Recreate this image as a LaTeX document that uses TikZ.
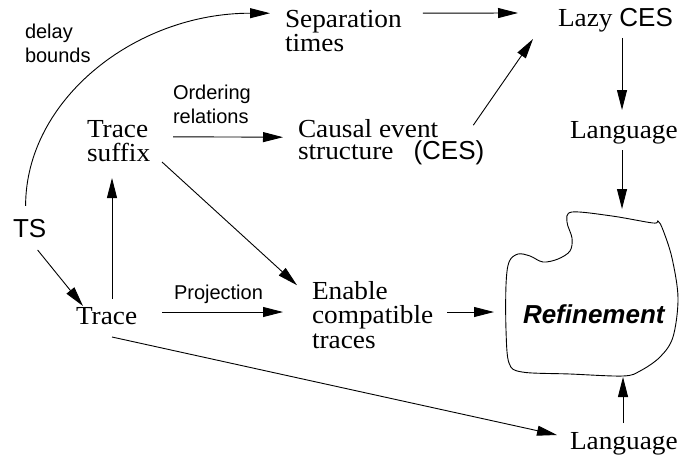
\documentclass[tikz,border=0pt]{standalone}
\usepackage{fontspec}
\setmainfont[FakeStretch=1.05]{Liberation Serif}
\setsansfont{Liberation Sans}
\usetikzlibrary{arrows.meta}

\begin{document}
\begin{tikzpicture}[x=1pt,y=-1pt,
  every node/.style={inner sep=0pt,outer sep=0pt},
  serif/.style={font=\fontsize{26}{23.5}\selectfont,align=left},
  sans/.style={font=\sffamily\fontsize{26}{24}\selectfont},
  note/.style={font=\sffamily\fontsize{20}{24}\selectfont,align=left},
  conn/.style={line width=0.9pt,-{Triangle[length=20pt,width=10pt]}}]
  \useasboundingbox (0,0) rectangle (679,460);
  % texts
  \node[sans,anchor=base west] (ts) at (13,237) {TS};
  \node[serif,anchor=base west] (trace) at (76,324) {Trace};
  \node[serif,anchor=north west,font=\fontsize{26}{24}\selectfont] (suffix) at (87,120.8) {Trace\\suffix};
  \node[serif,anchor=north west,font=\fontsize{26}{22.5}\selectfont] (sep) at (285,10.2) {Separation\\times};
  \node[serif,anchor=north west,font=\fontsize{26}{22.5}\selectfont] (causal) at (298,119.2)
    {Causal event\\structure\hspace{20pt}{\sffamily(CES)}};
  \node[serif,anchor=base west] (lazy) at (558,27) {Lazy {\sffamily CES}};
  \node[serif,anchor=base west] (lang1) at (570,138) {Language};
  \node[serif,anchor=base west] (lang2) at (570,449) {Language};
  \node[serif,anchor=north west,font=\fontsize{26}{24.5}\selectfont] (enable) at (312,281.2)
    {Enable\\compatible\\traces};
  \node[note,anchor=north west] (delay) at (25,23.7) {delay\\bounds};
  \node[note,anchor=north west] (order) at (173,85.2) {Ordering\\relations};
  \node[note,anchor=base west] (proj) at (174,299) {Projection};
  \node[sans,anchor=base west,font=\sffamily\bfseries\itshape\fontsize{26}{24}\selectfont]
    (refine) at (523,323) {Refinement};
  % the refinement blob
  \draw[line width=0.9pt] plot[smooth cycle,tension=0.55] coordinates {
    (572,212) (612,216) (653,223) (658,221) (663,230) (672,258) (678,298)
    (673,337) (660,357) (640,371) (623,376) (570,374) (522,372) (509,363)
    (506,330) (506,285) (509,262) (518,254) (530,256) (543,262) (558,259)
    (570,251) (572,238) (567,222)};
  \coordinate (rtop) at (622,209);
  \coordinate (rleft) at (494,312);
  \coordinate (rbot) at (623,377);
  % connectors
  \draw[conn] ([shift={(-4,-13)}]ts.north) .. controls +(0,-106) and +(-135,0)
    .. ([shift={(-15,3)}]sep.north west);
  \draw[conn] ([shift={(21,3)}]sep.north east) -- ([shift={(-40,-14)}]lazy.base west);
  \draw[conn] ([shift={(-11,6)}]causal.north east) -- ([shift={(-25,12)}]lazy.base west);
  \draw[conn] ([shift={(64,11)}]lazy.base west) -- ([shift={(52,-28)}]lang1.base west);
  \draw[conn] ([shift={(52,12)}]lang1.base west) -- (rtop);
  \draw[conn] ([shift={(86,16)}]suffix.north west) -- ([shift={(-15,18)}]causal.north west);
  \draw[conn] ([shift={(75,41.2)}]suffix.north west) -- ([shift={(-15,4)}]enable.north west);
  \draw[conn] ([shift={(8,13)}]ts.base) -- ([shift={(7,-18)}]trace.base west);
  \draw[conn] ([shift={(36,-25)}]trace.base west) -- ([shift={(25,57.2)}]suffix.north west);
  \draw[conn] ([shift={(86,-12)}]trace.base west) -- ([shift={(-29,30.8)}]enable.north west);
  \draw[conn] ([shift={(36,13)}]trace.base west) -- ([shift={(-13,-14)}]lang2.base west);
  \draw[conn] ([shift={(135,30.8)}]enable.north west) -- (rleft);
  \draw[conn] ([shift={(53,-26)}]lang2.base west) -- (rbot);
\end{tikzpicture}
\end{document}
